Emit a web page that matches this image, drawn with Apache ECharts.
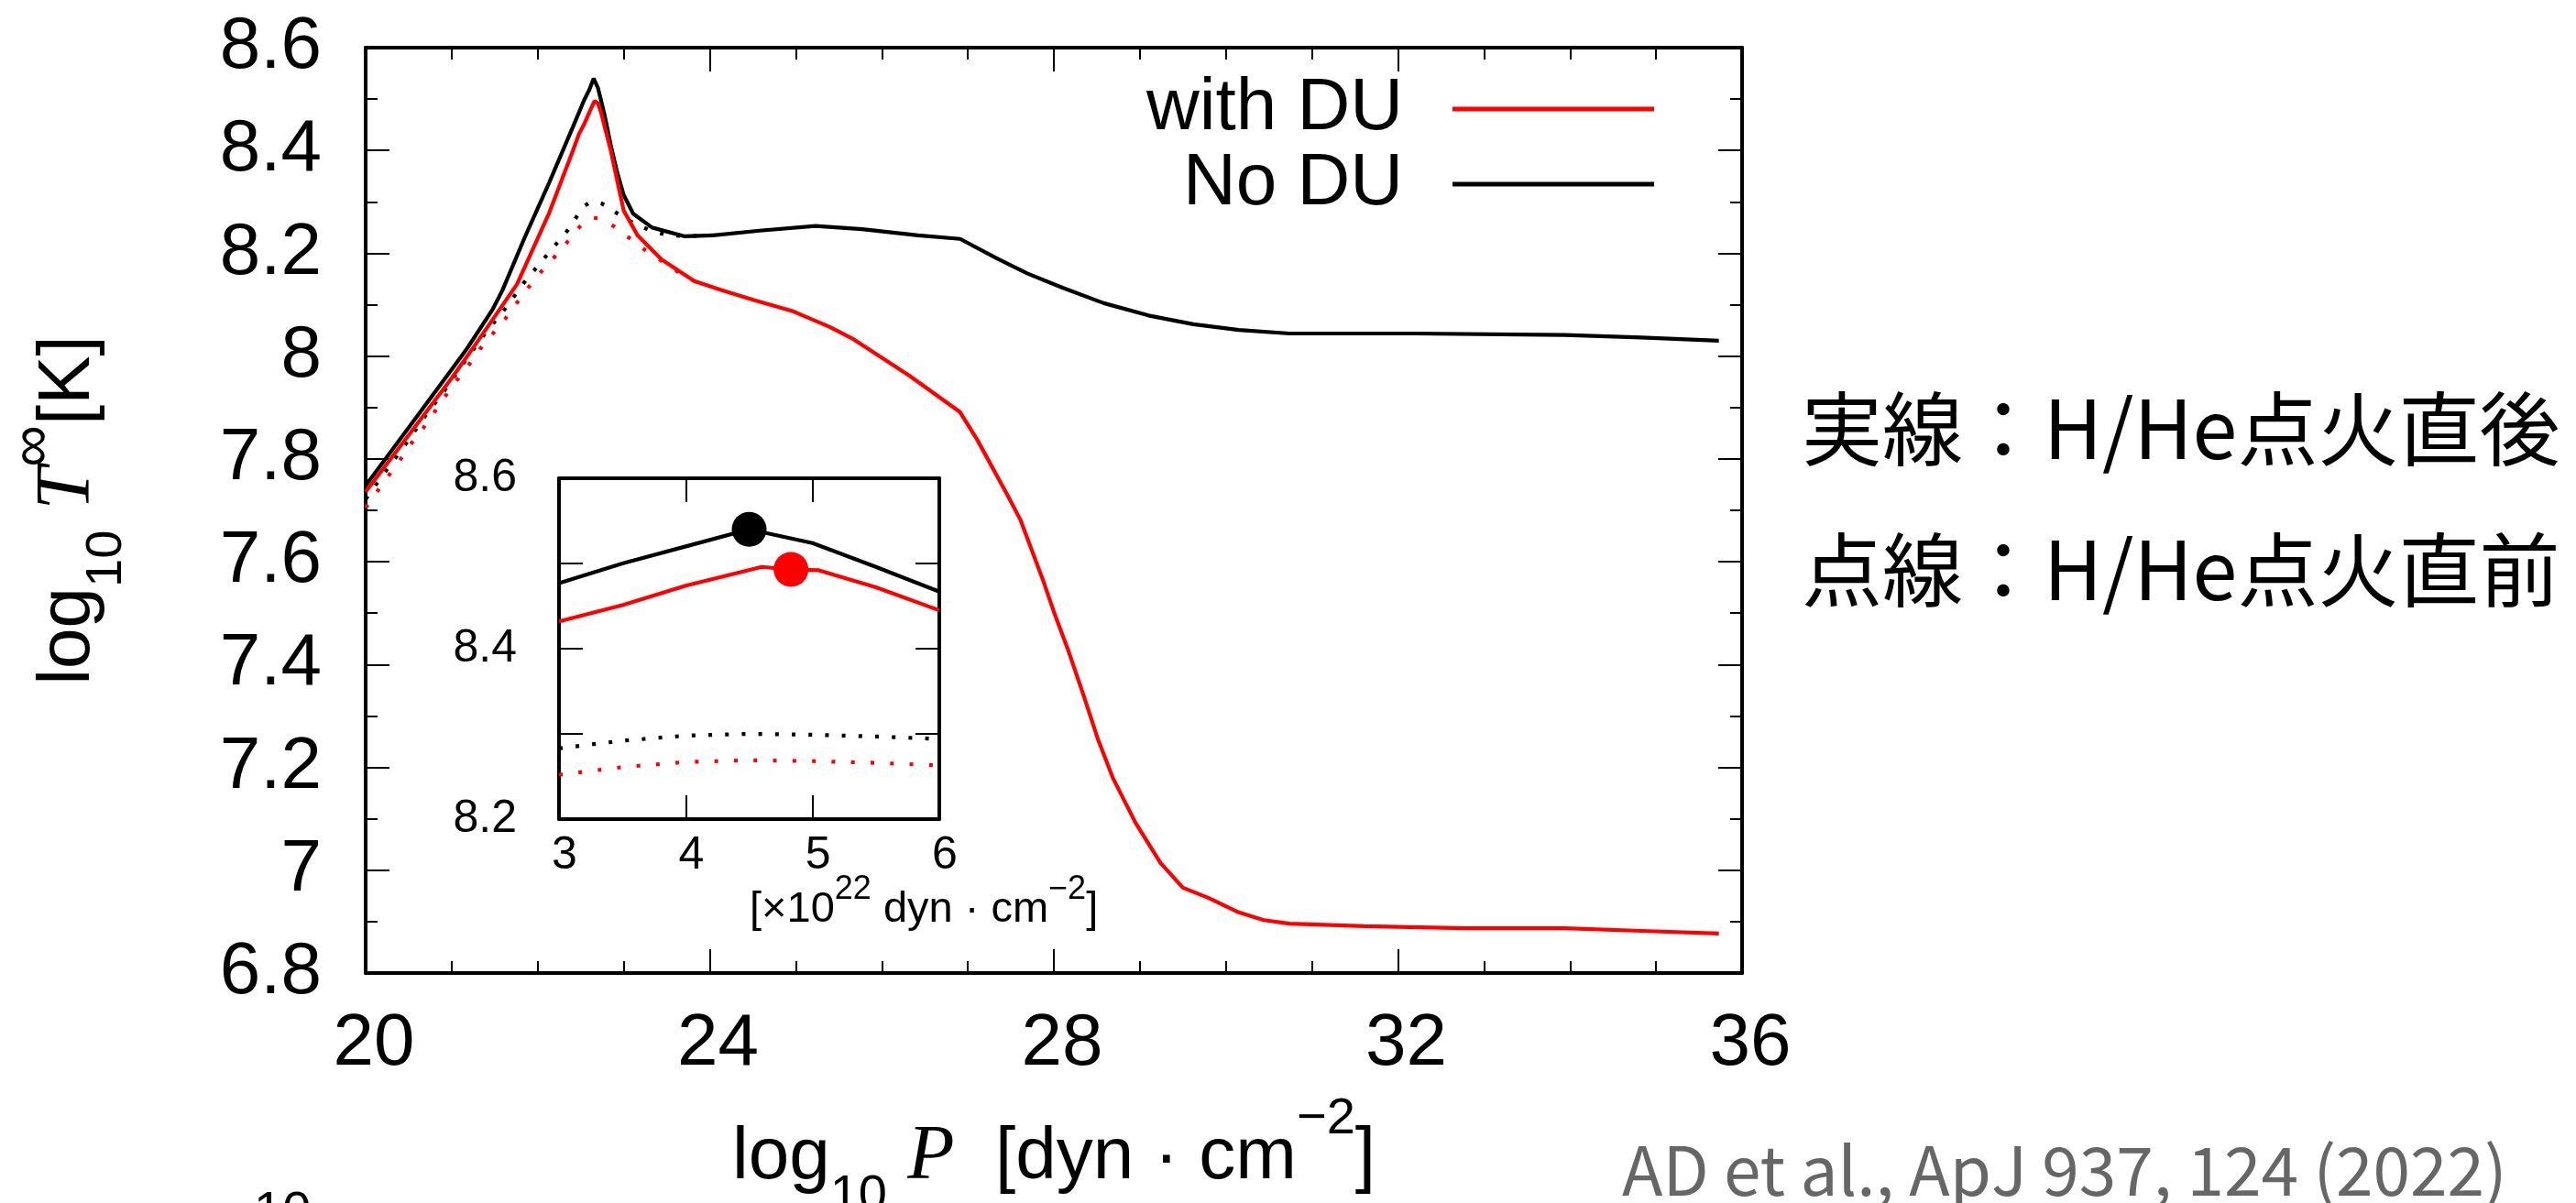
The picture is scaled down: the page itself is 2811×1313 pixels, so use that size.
<!DOCTYPE html>
<html>
<head>
<meta charset="utf-8">
<script src="https://cdn.jsdelivr.net/npm/echarts@6/dist/echarts.min.js"></script>
<style>
  html, body { margin: 0; padding: 0; background: #fff; }
  #chart { width: 2811px; height: 1313px; }
</style>
</head>
<body>
<div id="chart"></div>
<script>
// Envelope temperature profiles: log10 P [dyn cm^-2] vs log10 T_inf [K]

// Solid: right after H/He ignition, No DU
const noDuLogP = [20.00, 20.50, 21.00, 21.18, 21.48, 21.59, 21.86, 22.13, 22.41, 22.54, 22.60, 22.65,
  22.70, 22.74, 22.78, 22.85, 22.92, 23.00, 23.11, 23.33, 23.71, 24.04, 24.58, 25.23, 25.77, 26.42,
  26.91, 27.34, 27.69, 28.10, 28.58, 29.10, 29.62, 30.15, 30.74, 32.20, 33.94, 34.83, 35.73];
const noDuLogT = [7.748, 7.861, 7.974, 8.015, 8.092, 8.128, 8.235, 8.336, 8.446, 8.498, 8.518, 8.540,
  8.522, 8.495, 8.467, 8.410, 8.360, 8.313, 8.277, 8.250, 8.233, 8.235, 8.244, 8.253, 8.247, 8.235,
  8.228, 8.190, 8.161, 8.133, 8.103, 8.079, 8.062, 8.051, 8.044, 8.044, 8.041, 8.036, 8.030];

// Solid: right after H/He ignition, with DU
const withDuLogP = [20.00, 20.50, 21.00, 21.27, 21.76, 22.13, 22.41, 22.48, 22.54, 22.60, 22.66, 22.70,
  22.74, 22.78, 22.85, 22.90, 23.00, 23.16, 23.44, 23.82, 24.14, 24.53, 24.97, 25.39, 25.67, 26.32,
  26.91, 27.11, 27.46, 27.61, 27.87, 28.01, 28.16, 28.34, 28.51, 28.69, 28.95, 29.24, 29.50, 29.80,
  30.15, 30.44, 30.74, 31.61, 32.78, 33.94, 34.83, 35.73];
const withDuLogT = [7.736, 7.846, 7.957, 8.021, 8.140, 8.277, 8.400, 8.432, 8.451, 8.474, 8.496, 8.492,
  8.472, 8.445, 8.400, 8.360, 8.283, 8.235, 8.188, 8.146, 8.128, 8.108, 8.087, 8.057, 8.033, 7.962,
  7.891, 7.837, 7.730, 7.682, 7.566, 7.498, 7.431, 7.343, 7.256, 7.178, 7.092, 7.014, 6.966, 6.946,
  6.918, 6.903, 6.896, 6.891, 6.887, 6.887, 6.882, 6.877];

// Dotted: just before ignition, No DU
const noDuPreLogP = [20.00, 20.24, 20.47, 20.69, 20.93, 21.15, 21.37, 21.62, 21.85, 22.10, 22.35, 22.48,
  22.54, 22.60, 22.65, 22.70, 22.74, 22.79, 22.95, 23.11, 23.30, 23.49, 23.71, 24.04];
const noDuPreLogT = [7.722, 7.778, 7.830, 7.883, 7.936, 7.989, 8.040, 8.092, 8.145, 8.195, 8.245, 8.278,
  8.292, 8.298, 8.300, 8.299, 8.297, 8.293, 8.275, 8.259, 8.245, 8.236, 8.233, 8.235];

// Dotted: just before ignition, with DU
const withDuPreLogP = [20.00, 20.14, 20.27, 20.40, 20.53, 20.67, 20.80, 20.93, 21.06, 21.20, 21.33, 21.48,
  21.62, 21.76, 21.89, 22.03, 22.18, 22.33, 22.48, 22.54, 22.60, 22.65, 22.70, 22.74, 22.78, 22.89,
  23.07, 23.25, 23.44, 23.63, 23.82];
const withDuPreLogT = [7.705, 7.738, 7.768, 7.798, 7.830, 7.860, 7.891, 7.923, 7.953, 7.983, 8.014, 8.044,
  8.072, 8.104, 8.133, 8.162, 8.190, 8.219, 8.250, 8.261, 8.267, 8.269, 8.268, 8.266, 8.263, 8.252,
  8.229, 8.206, 8.185, 8.164, 8.146];

// Inset: P in units of 1e22 dyn cm^-2 around the ignition point
const insetNoDuP = [3.0, 3.5, 4.0, 4.5, 5.0, 5.5, 6.0];
const insetNoDuT = [8.477, 8.500, 8.520, 8.540, 8.524, 8.496, 8.467];
const insetWithDuP = [3.0, 3.5, 4.0, 4.6, 4.83, 5.05, 5.5, 6.0];
const insetWithDuT = [8.432, 8.451, 8.474, 8.496, 8.493, 8.492, 8.472, 8.445];
const insetPreP = [3.0, 3.5, 4.0, 4.5, 5.0, 5.5, 6.0];
const insetNoDuPreT = [8.283, 8.292, 8.298, 8.300, 8.299, 8.297, 8.294];
const insetWithDuPreT = [8.252, 8.261, 8.267, 8.269, 8.268, 8.266, 8.263];
// Ignition points
const igniteNoDu = [4.5, 8.540];
const igniteWithDu = [4.83, 8.493];

// Axis ticks
const mainXTicks = { min: 20, max: 36, interval: 4 };
const mainYTicks = { min: 6.8, max: 8.6, interval: 0.2 };
const insetXTicks = { min: 3, max: 6, interval: 1 };
const insetYTicks = { min: 8.2, max: 8.6, interval: 0.1 };

const zip = (xs, ys) => xs.map((x, i) => [x, ys[i]]);

const RED = '#ff0000';
const BLACK = '#000000';
const SANS = 'Liberation Sans';
const SERIF = 'Liberation Serif';
const JP = 'Noto Sans CJK JP';
const LINE_W = 4.2;
const DOT_BLACK = [4, 14.2];
const DOT_RED = [4, 17.3];

function axis(gridIndex, position, ticks, opts) {
  return Object.assign({
    gridIndex: gridIndex,
    type: 'value',
    position: position,
    min: ticks.min,
    max: ticks.max,
    interval: ticks.interval,
    axisLine: { show: true, onZero: false, lineStyle: { color: BLACK, width: 4 } },
    axisTick: { show: true, inside: true, length: 26, lineStyle: { color: BLACK, width: 2 } },
    splitLine: { show: false },
    minorSplitLine: { show: false },
    axisLabel: { show: false }
  }, opts || {});
}

const mainLabel = (margin, extra) => Object.assign({
  show: true, color: BLACK, fontSize: 80, fontFamily: SANS, margin: margin
}, extra || {});
const insetLabel = (margin, extra) => Object.assign({
  show: true, color: BLACK, fontSize: 50, fontFamily: SANS, margin: margin
}, extra || {});

const fmt1 = v => String(Math.round(v * 10) / 10);

const chart = echarts.init(document.getElementById('chart'), null, { renderer: 'canvas' });

const lineSeries = (name, xi, yi, data, color, type, width) => ({
  name: name,
  type: 'line',
  xAxisIndex: xi,
  yAxisIndex: yi,
  data: data,
  showSymbol: false,
  symbol: 'none',
  smooth: false,
  silent: true,
  itemStyle: { color: color },
  lineStyle: { color: color, width: width || LINE_W, type: type || 'solid', opacity: 1 },
  z: 3
});

const titleRich = {
  n:   { fill: BLACK, fontSize: 80, fontFamily: SANS, lineHeight: 140 },
  it:  { fill: BLACK, fontSize: 84, fontFamily: SERIF, fontStyle: 'italic', lineHeight: 140 },
  sub: { fill: BLACK, fontSize: 56, fontFamily: SANS, lineHeight: 88, verticalAlign: 'bottom' },
  sup: { fill: BLACK, fontSize: 56, fontFamily: SANS, lineHeight: 64, verticalAlign: 'top' },
  inf: { fill: BLACK, fontSize: 64, fontFamily: SANS, lineHeight: 60, verticalAlign: 'top' }
};
const insetRich = {
  n:   { fill: BLACK, fontSize: 47, fontFamily: SANS, lineHeight: 80 },
  sup: { fill: BLACK, fontSize: 36, fontFamily: SANS, lineHeight: 40, verticalAlign: 'top' }
};

const legendText = { color: BLACK, fontSize: 80, fontFamily: SANS, lineHeight: 80, padding: [0, 49, 0, 0] };

const option = {
  backgroundColor: '#ffffff',
  animation: false,
  grid: [
    { left: 399, top: 52, width: 1502, height: 1010, containLabel: false, outerBoundsMode: 'none', show: false },
    { left: 610, top: 522, width: 415, height: 372, containLabel: false, outerBoundsMode: 'none',
      show: true, backgroundColor: '#ffffff', borderWidth: 0, z: 4 }
  ],
  xAxis: [
    axis(0, 'bottom', mainXTicks, {
      axisLabel: mainLabel(38, { padding: [0, 0, 0, 18] }),
      minorTick: { show: true, splitNumber: 4, length: 13, lineStyle: { color: BLACK, width: 2 } }
    }),
    axis(0, 'top', mainXTicks, {
      minorTick: { show: true, splitNumber: 4, length: 13, lineStyle: { color: BLACK, width: 2 } }
    }),
    axis(1, 'bottom', insetXTicks, { axisLabel: insetLabel(15, { padding: [0, 0, 0, 12] }), z: 5 }),
    axis(1, 'top', insetXTicks, { z: 5 })
  ],
  yAxis: [
    axis(0, 'left', mainYTicks, {
      axisLabel: mainLabel(48, { formatter: fmt1 }),
      minorTick: { show: true, splitNumber: 2, length: 13, lineStyle: { color: BLACK, width: 2 } }
    }),
    axis(0, 'right', mainYTicks, {
      minorTick: { show: true, splitNumber: 2, length: 13, lineStyle: { color: BLACK, width: 2 } }
    }),
    axis(1, 'left', insetYTicks, {
      axisLabel: insetLabel(46, {
        formatter: v => (Math.round(v * 10) % 2 === 0 ? fmt1(v) : '')
      }),
      z: 5
    }),
    axis(1, 'right', insetYTicks, { z: 5 })
  ],
  legend: [
    {
      data: ['with DU'], orient: 'vertical', align: 'right', right: 1006, top: 79,
      icon: 'rect', itemWidth: 220, itemHeight: 5, itemGap: 0, padding: 0,
      selectedMode: false, textStyle: legendText
    },
    {
      data: ['No DU'], orient: 'vertical', align: 'right', right: 1006, top: 161,
      icon: 'rect', itemWidth: 220, itemHeight: 5, itemGap: 0, padding: 0,
      selectedMode: false, textStyle: legendText
    }
  ],
  series: [
    // main panel
    lineSeries('No DU 点火直前', 0, 0, zip(noDuPreLogP, noDuPreLogT), BLACK, DOT_BLACK),
    lineSeries('with DU 点火直前', 0, 0, zip(withDuPreLogP, withDuPreLogT), RED, DOT_RED),
    lineSeries('No DU', 0, 0, zip(noDuLogP, noDuLogT), BLACK),
    lineSeries('with DU', 0, 0, zip(withDuLogP, withDuLogT), RED),
    // inset panel
    Object.assign(lineSeries('No DU 点火直前 (inset)', 2, 2, zip(insetPreP, insetNoDuPreT), BLACK, DOT_BLACK), { z: 6 }),
    Object.assign(lineSeries('with DU 点火直前 (inset)', 2, 2, zip(insetPreP, insetWithDuPreT), RED, DOT_RED), { z: 6 }),
    Object.assign(lineSeries('No DU (inset)', 2, 2, zip(insetNoDuP, insetNoDuT), BLACK), { z: 6 }),
    Object.assign(lineSeries('with DU (inset)', 2, 2, zip(insetWithDuP, insetWithDuT), RED), { z: 6 }),
    {
      name: 'ignition No DU', type: 'scatter', xAxisIndex: 2, yAxisIndex: 2, silent: true,
      data: [igniteNoDu], symbol: 'circle', symbolSize: 38,
      itemStyle: { color: BLACK, opacity: 1 }, z: 7
    },
    {
      name: 'ignition with DU', type: 'scatter', xAxisIndex: 2, yAxisIndex: 2, silent: true,
      data: [igniteWithDu], symbol: 'circle', symbolSize: 38,
      itemStyle: { color: RED, opacity: 1 }, z: 7
    }
  ],
  graphic: [
    {
      type: 'text', x: 1150, y: 1264, silent: true,
      style: {
        text: '{n|log}{sub|10}{n| }{it|P}{n|  [dyn · cm}{sup|−2}{n|]}',
        rich: titleRich, align: 'center', verticalAlign: 'middle'
      }
    },
    {
      type: 'text', x: 75, y: 557, rotation: Math.PI / 2, silent: true,
      style: {
        text: '{n|log}{sub|10}{n| }{it|T}{inf|∞}{n|[K]}',
        rich: titleRich, align: 'center', verticalAlign: 'middle'
      }
    },
    {
      type: 'text', x: 818, y: 993, silent: true, z: 10,
      style: {
        text: '{n|[×10}{sup|22}{n| dyn · cm}{sup|−2}{n|]}',
        rich: insetRich, align: 'left', verticalAlign: 'middle'
      }
    },
    {
      type: 'text', x: 1966, y: 468, silent: true,
      style: { text: '実線：H/He点火直後', fill: BLACK, fontSize: 88, fontFamily: JP, align: 'left', verticalAlign: 'middle' }
    },
    {
      type: 'text', x: 1966, y: 622, silent: true,
      style: { text: '点線：H/He点火直前', fill: BLACK, fontSize: 88, fontFamily: JP, align: 'left', verticalAlign: 'middle' }
    },
    {
      type: 'text', x: 1770, y: 1277, silent: true,
      style: { text: 'AD et al., ApJ 937, 124 (2022)', fill: '#666666', fontSize: 73, fontFamily: JP, align: 'left', verticalAlign: 'middle' }
    },
    {
      type: 'text', x: 277, y: 1296, silent: true,
      style: { text: '10', fill: BLACK, fontSize: 56, fontFamily: SANS, align: 'left', verticalAlign: 'top' }
    }
  ]
};

chart.setOption(option);
</script>
</body>
</html>
